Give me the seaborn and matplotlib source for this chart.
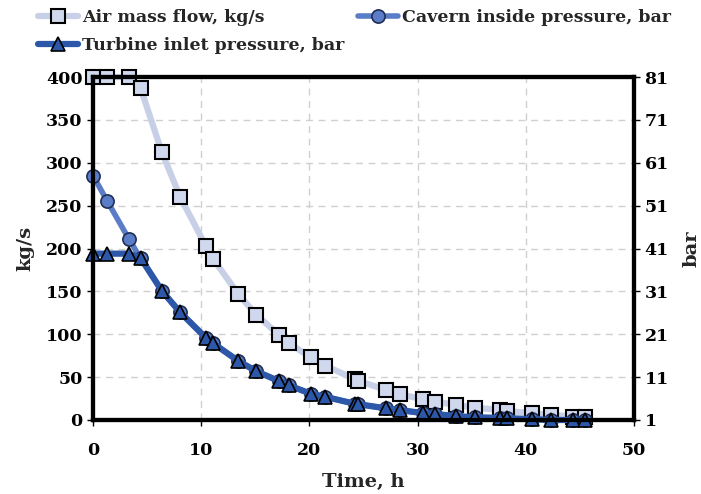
import matplotlib
matplotlib.use("Agg")
import matplotlib.pyplot as plt
import seaborn as sns
import numpy as np

# data
time_h = [0, 1.33, 3.32, 4.4, 6.37, 8.06, 10.42, 11.1, 13.41, 15.07, 17.16, 18.08,
          20.15, 21.47, 24.17, 24.48, 27.12, 28.36, 30.53, 31.59, 33.58, 35.3,
          37.61, 38.28, 40.59, 42.29, 44.37, 45.45]
air_flow = [400, 400, 400, 387, 312, 260, 203, 188, 147, 123, 99.5, 89.4,
            73, 63.3, 47.8, 45.8, 35, 30, 24, 21.4, 17.5, 14.4,
            11.7, 10.5, 7.8, 6.2, 3.9, 3.1]
cavern_bar = [58.0, 52.0, 43.2, 38.7, 31.1, 26.1, 20.2, 18.9, 14.8, 12.4, 10.1, 9.1,
              7.1, 6.4, 4.8, 4.7, 3.7, 3.3, 2.6, 2.4, 1.9, 1.6,
              1.5, 1.4, 1.2, 1.0, 1.0, 1.0]
turbine_bar = [39.8, 39.8, 39.8, 38.8, 31.1, 26.1, 20.2, 18.9, 14.8, 12.4, 10.1, 9.1,
               7.1, 6.4, 4.8, 4.7, 3.7, 3.3, 2.6, 2.4, 1.9, 1.6,
               1.5, 1.4, 1.2, 1.0, 1.0, 1.0]

x_ticks = [0, 10, 20, 30, 40, 50]
left_ticks = [0, 50, 100, 150, 200, 250, 300, 350, 400]
right_ticks = [1, 11, 21, 31, 41, 51, 61, 71, 81]

sns.set_style("white")
plt.rcParams['font.family'] = ['DejaVu Serif']
plt.rcParams['font.weight'] = 'bold'
plt.rcParams['axes.labelweight'] = 'bold'

fig = plt.figure(figsize=(7.01, 4.94), dpi=100)
ax = fig.add_axes([0.1327, 0.1498, 0.7717, 0.6943])
ax2 = ax.twinx()

sns.lineplot(x=time_h, y=air_flow, ax=ax, sort=False, color='#c8d0e8', linewidth=4.5,
             marker='s', markersize=9.5, markerfacecolor='#d0d8ee', markeredgecolor='black',
             markeredgewidth=1.5, label='Air mass flow, kg/s', legend=False, clip_on=False)
sns.lineplot(x=time_h, y=cavern_bar, ax=ax2, sort=False, color='#5b7cc6', linewidth=4,
             marker='o', markersize=9.5, markerfacecolor='#5b7cc6', markeredgecolor='#1f2f55',
             markeredgewidth=1.2, label='Cavern inside pressure, bar', legend=False, clip_on=False)
sns.lineplot(x=time_h, y=turbine_bar, ax=ax2, sort=False, color='#2d58aa', linewidth=4.5,
             marker='^', markersize=9.5, markerfacecolor='#2d58aa', markeredgecolor='black',
             markeredgewidth=1.2, label='Turbine inlet pressure, bar', legend=False, clip_on=False)

ax.set_xlim(0, 50)
ax.set_ylim(0, 400)
ax2.set_ylim(1, 81)
ax.set_xticks(x_ticks)
ax.set_yticks(left_ticks)
ax2.set_yticks(right_ticks)

ax.grid(True, linestyle=(0, (5, 4)), color='#d0d0d0', linewidth=1)
ax2.grid(False)
ax.set_axisbelow(True)

for a in (ax, ax2):
    for sp in a.spines.values():
        sp.set_linewidth(3)
        sp.set_color('black')
        sp.set_visible(True)
    a.tick_params(direction='out', length=4, width=1, labelsize=12.5, colors='black')

ax.tick_params(axis='x', pad=12)
ax.set_xlabel('Time, h', fontsize=14, labelpad=10)
ax.set_ylabel('kg/s', fontsize=14, labelpad=8)
ax2.set_ylabel('bar', fontsize=14, labelpad=10)
ax.tick_params(left=True, bottom=True)
ax2.tick_params(right=True)

h1, l1 = ax.get_legend_handles_labels()
h2, l2 = ax2.get_legend_handles_labels()
handles = [h1[0], h2[1], h2[0]]
labels = [l1[0], l2[1], l2[0]]
fig.legend(handles, labels, ncol=2, loc='upper left', bbox_to_anchor=(0.045, 0.995),
           frameon=False, fontsize=12.5, handlelength=2.3, handletextpad=0.2,
           columnspacing=0.8, labelspacing=0.6, borderaxespad=0)

fig.savefig('out.png', dpi=100)
